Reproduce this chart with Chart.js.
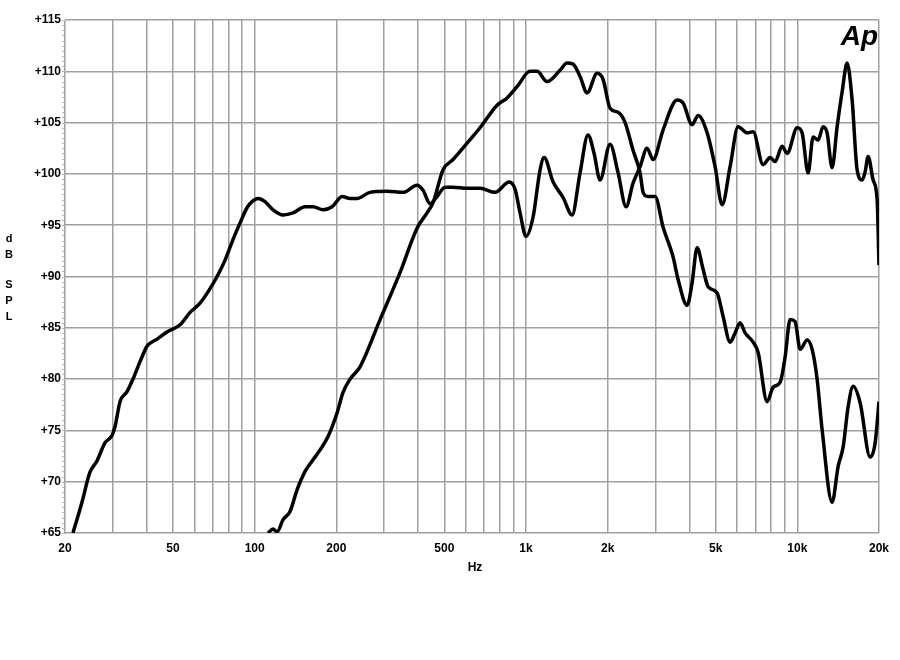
<!DOCTYPE html>
<html>
<head>
<meta charset="utf-8">
<script src="https://cdn.jsdelivr.net/npm/chart.js@4/dist/chart.umd.min.js"></script>
<style>
  html, body { margin: 0; padding: 0; background: #fff; }
  #wrap { position: relative; width: 900px; height: 660px; }
</style>
</head>
<body>
<div id="wrap"><canvas id="spl" width="900" height="660"></canvas></div>
<script>
// frequency response data (Hz / dB SPL)
const freqA = [21.4, 23.1, 24.7, 26.2, 28.1, 29.8, 30.6, 31.9, 33.9, 35.6, 37.8, 40.1, 41.2, 43.7, 47.5,
  53.1, 57.8, 62.9, 67.3, 72.7, 77.8, 83.2, 88.3, 93.7, 97.8, 102.9, 109.2, 116.9, 127.3, 138.5, 153.4,
  164.1, 178.7, 192.9, 210, 224.7, 238.5, 266.3, 307.6, 352.4, 396.7, 417.5, 443.1, 470.2, 503.1, 538.5,
  606.6, 677.1, 769.1, 866.5, 911.5, 951, 1000, 1062, 1127, 1166, 1259, 1370, 1479, 1582, 1693, 1782,
  1875, 2041, 2185, 2338, 2481, 2633, 2794, 2940, 3202, 3606, 3793, 4095, 4309, 4653, 4977, 5282, 5652,
  6050, 6531, 6872, 7482, 7941, 8282, 8790, 9171, 9984, 10415, 10960, 11435, 11930, 12447, 12876, 13435,
  14017, 14626, 15258, 15922, 16609, 17336, 17782, 18238, 19028, 19683, 20000];
const splA = [65, 68, 70.9, 72, 73.8, 74.5, 75.4, 77.8, 78.8, 80, 81.7, 83.2, 83.5, 83.9, 84.6,
  85.3, 86.5, 87.4, 88.5, 90, 91.6, 93.6, 95.2, 96.7, 97.3, 97.6, 97.3, 96.5, 96, 96.2, 96.8,
  96.8, 96.5, 96.8, 97.8, 97.6, 97.6, 98.2, 98.3, 98.2, 98.9, 98.4, 97.1, 97.8, 98.7, 98.7,
  98.6, 98.6, 98.2, 99.2, 98.5, 96.2, 93.9, 95.8, 100.4, 101.6, 99.2, 97.7, 96, 100.1, 103.8, 102,
  99.4, 102.9, 100.1, 96.8, 99.1, 100.7, 102.5, 101.4, 104.3, 107.2, 106.9, 104.8, 105.7, 104, 100.7, 97, 100.7,
  104.6, 104, 104.1, 100.9, 101.6, 101.2, 102.7, 102, 104.5, 104, 100.1, 103.6, 103.3, 104.6, 104, 100.6,
  104.6, 108, 110.8, 107.2, 100.4, 99.4, 100.2, 101.7, 99.4, 97.5, 91.1];

const freqB = [112, 116.9, 120.9, 127.3, 135, 143.3, 153.4, 162.7, 174.2, 186.4, 201.2, 211.7, 224.7,
  244.6, 289.9, 343.6, 396.7, 432, 454.5, 494.8, 538.5, 606.6, 677.1, 782.4, 851.8, 927.2, 1035, 1099,
  1196, 1335, 1417, 1491, 1582, 1680, 1828, 1924, 2041, 2185, 2319, 2481, 2633, 2702, 2818, 2991, 3202,
  3485, 3636, 3925, 4095, 4272, 4495, 4690, 5062, 5327, 5652, 5898, 6154, 6421, 6872, 7171, 7741, 8144,
  8645, 9020, 9409, 9815, 10240, 10870, 11340, 11830, 12340, 13435, 14140, 14757, 15390, 16060, 17040,
  18550, 19360, 20000];
const splB = [65, 65.4, 65.1, 66.3, 67.1, 69.2, 71, 72, 73.1, 74.4, 76.7, 78.7, 80,
  81.2, 85.8, 90.4, 94.7, 96.2, 97.2, 100.4, 101.4, 103, 104.5, 106.7, 107.4, 108.5, 110, 110,
  109, 110.1, 110.8, 110.7, 109.5, 107.9, 109.8, 109.2, 106.4, 106, 105, 102.3, 100.1, 98.2, 97.8, 97.8, 94.8,
  91.9, 89.7, 87.2, 89.4, 92.8, 90.7, 89, 88.4, 86.1, 83.6, 84.5, 85.5, 84.5, 83.6, 82.6, 77.8, 79.2,
  79.7, 82.2, 85.8, 85.6, 82.9, 83.8, 82.9, 80, 75.1, 68, 71.5, 73.4, 77.3, 79.3, 77.7,
  72.4, 73.8, 77.8];

// axis ticks
const freqGrid = [20, 30, 40, 50, 60, 70, 80, 90, 100, 200, 300, 400, 500, 600, 700, 800, 900,
  1000, 2000, 3000, 4000, 5000, 6000, 7000, 8000, 9000, 10000, 20000];
const freqLabels = { 20: '20', 50: '50', 100: '100', 200: '200', 500: '500', 1000: '1k',
  2000: '2k', 5000: '5k', 10000: '10k', 20000: '20k' };
const yTitleLetters = ['d', 'B', '', 'S', 'P', 'L'];

const toXY = (fs, ys) => fs.map((f, i) => ({ x: f, y: ys[i] }));

const labelFont = "bold 12px 'Liberation Sans', Arial, sans-serif";

// extra decorations: y ruler marks, axis titles and logo
const decorPlugin = {
  id: 'decor',
  afterDraw(chart) {
    const ctx = chart.ctx;
    const area = chart.chartArea;
    const ys = chart.scales.y;
    ctx.save();
    // small ruler marks along the left axis
    ctx.strokeStyle = '#b8b8b8';
    ctx.lineWidth = 1;
    for (let v = ys.min; v <= ys.max + 0.01; v += 0.5) {
      const py = Math.round(ys.getPixelForValue(v)) + 0.5;
      ctx.beginPath();
      ctx.moveTo(area.left - 3, py);
      ctx.lineTo(area.left + 1, py);
      ctx.stroke();
    }
    // y title, stacked letters
    ctx.fillStyle = '#000';
    ctx.font = "bold 11px 'Liberation Sans', Arial, sans-serif";
    ctx.textAlign = 'center';
    ctx.textBaseline = 'middle';
    let ty = 239;
    yTitleLetters.forEach(ch => {
      if (ch) ctx.fillText(ch, 9, ty);
      ty += ch ? 16 : 14;
    });
    // x title
    ctx.font = labelFont;
    ctx.fillText('Hz', (area.left + area.right) / 2 + 3, 568);
    // Ap logo
    ctx.font = "italic bold 28px 'Liberation Sans', Arial, sans-serif";
    ctx.textAlign = 'right';
    ctx.textBaseline = 'alphabetic';
    ctx.fillText('Ap', area.right - 1, 45);
    ctx.restore();
  }
};

new Chart(document.getElementById('spl'), {
  type: 'line',
  data: {
    datasets: [
      { data: toXY(freqA, splA), borderColor: '#000', borderWidth: 3.5, pointRadius: 0,
        cubicInterpolationMode: 'monotone', fill: false },
      { data: toXY(freqB, splB), borderColor: '#000', borderWidth: 3.5, pointRadius: 0,
        cubicInterpolationMode: 'monotone', fill: false }
    ]
  },
  options: {
    responsive: false,
    animation: false,
    layout: { padding: { top: 20, right: 21, bottom: 0, left: 0 } },
    plugins: { legend: { display: false }, tooltip: { enabled: false } },
    scales: {
      x: {
        type: 'logarithmic',
        min: 20,
        max: 20000,
        afterBuildTicks: scale => { scale.ticks = freqGrid.map(v => ({ value: v })); },
        afterFit: scale => { scale.height = 127; },
        grid: { color: '#a0a0a0', lineWidth: 1.5, drawTicks: false },
        border: { display: false },
        ticks: {
          autoSkip: false,
          maxRotation: 0,
          padding: 8,
          color: '#000',
          font: { family: "'Liberation Sans', Arial, sans-serif", size: 12, weight: 'bold' },
          callback: v => freqLabels[v] || ''
        }
      },
      y: {
        min: 65,
        max: 115,
        afterFit: scale => { scale.width = 65; },
        grid: { color: '#a0a0a0', lineWidth: 1.5, drawTicks: false },
        border: { display: false },
        ticks: {
          stepSize: 5,
          padding: 4,
          color: '#000',
          font: { family: "'Liberation Sans', Arial, sans-serif", size: 12, weight: 'bold' },
          callback: v => '+' + v
        }
      }
    }
  },
  plugins: [decorPlugin]
});
</script>
</body>
</html>
